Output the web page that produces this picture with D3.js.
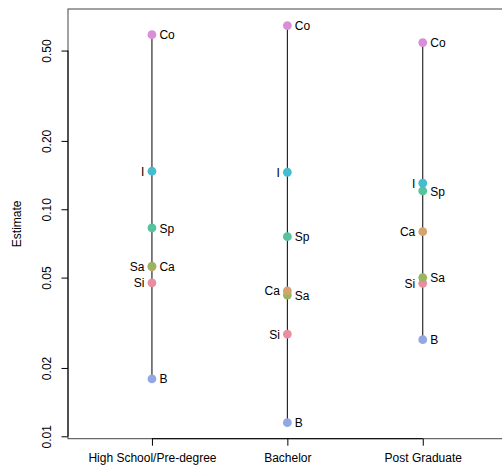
<!DOCTYPE html>
<html>
<head>
<meta charset="utf-8">
<script src="https://d3js.org/d3.v7.min.js"></script>
<style>
  html, body { margin: 0; padding: 0; background: #fff; }
  svg { display: block; font-family: "Liberation Sans", Arial, Helvetica, sans-serif; }
</style>
</head>
<body>
<svg id="chart" width="502" height="471"></svg>
<script>
// Education levels shown along the x axis
const levels = ["High School/Pre-degree", "Bachelor", "Post Graduate"];

// Group codes and their estimates for each education level
const groups = ["Co", "I", "Sp", "Ca", "Sa", "Si", "B"];
const highSchool = [0.587, 0.147, 0.0827, 0.0558, 0.0562, 0.0474, 0.0179];
const bachelor   = [0.644, 0.1455, 0.0757, 0.0437, 0.0419, 0.0282, 0.01148];
const postGrad   = [0.542, 0.1302, 0.1204, 0.0797, 0.0500, 0.0472, 0.02665];
const estimates = [highSchool, bachelor, postGrad];

const groupColors = ["#D98ED5", "#45BDD1", "#57C39C", "#D5A46E", "#9BB463", "#E78EA0", "#94A7E5"];

const yTicks = [0.01, 0.02, 0.05, 0.10, 0.20, 0.50];

const svg = d3.select("#chart");
const plot = { left: 68, right: 506.7, top: 9, bottom: 438.7 };

const x = d3.scaleLinear().domain([0.38, 3.62]).range([plot.left, plot.right]);
const y = d3.scaleLog().domain([0.00976, 0.762]).range([plot.bottom, plot.top]);

// Plot frame
svg.append("rect")
  .attr("x", plot.left).attr("y", plot.top)
  .attr("width", plot.right - plot.left).attr("height", plot.bottom - plot.top)
  .attr("fill", "none").attr("stroke", "#444").attr("stroke-width", 1);

// Y axis (log scale)
const yAxis = svg.append("g")
  .attr("transform", `translate(${plot.left},0)`)
  .call(d3.axisLeft(y).tickValues(yTicks).tickFormat(d3.format(".2f")).tickSizeOuter(0).tickSize(6.5).tickPadding(5));
yAxis.select(".domain").remove();
yAxis.append("line")
  .attr("x1", 0).attr("x2", 0).attr("y1", y(yTicks[0])).attr("y2", y(yTicks[yTicks.length - 1]))
  .attr("stroke", "#000");
yAxis.selectAll(".tick line").attr("stroke", "#000");
yAxis.selectAll(".tick text")
  .attr("font-size", 12).attr("fill", "#000")
  .attr("text-anchor", "middle")
  .attr("transform", "rotate(-90)")
  .attr("x", 0).attr("y", -17.5).attr("dy", 0);

// X axis with one tick per education level
const xAxis = svg.append("g")
  .attr("transform", `translate(0,${plot.bottom})`)
  .call(d3.axisBottom(x).tickValues([1, 2, 3]).tickFormat((d) => levels[d - 1]).tickSizeOuter(0).tickSize(7).tickPadding(16));
xAxis.select(".domain").remove();
xAxis.append("line")
  .attr("x1", x(1)).attr("x2", x(3)).attr("y1", 0).attr("y2", 0)
  .attr("stroke", "#000");
xAxis.selectAll(".tick line").attr("stroke", "#000");
xAxis.selectAll(".tick text").attr("font-size", 12).attr("fill", "#000").attr("dy", "0");

// Y axis title
svg.append("text")
  .attr("transform", `translate(17,${(plot.top + plot.bottom) / 2}) rotate(-90)`)
  .attr("text-anchor", "middle")
  .attr("dy", "0.35em")
  .attr("font-size", 12)
  .text("Estimate");

// One column per education level: range line, points, alternating labels
estimates.forEach((vals, i) => {
  const cx = x(i + 1);
  const pts = groups.map((g, j) => ({ group: g, value: vals[j], color: groupColors[j] }));
  const byRank = pts.slice().sort((a, b) => b.value - a.value);
  byRank.forEach((p, r) => { p.side = r % 2 === 0 ? "right" : "left"; });

  svg.append("line")
    .attr("x1", cx).attr("x2", cx)
    .attr("y1", y(d3.max(vals))).attr("y2", y(d3.min(vals)))
    .attr("stroke", "#000").attr("stroke-width", 1);

  // smaller values first so larger ones sit on top
  const drawOrder = pts.slice().sort((a, b) => a.value - b.value);
  svg.append("g").selectAll("circle")
    .data(drawOrder)
    .join("circle")
    .attr("cx", cx)
    .attr("cy", (d) => y(d.value))
    .attr("r", 4.4)
    .attr("fill", (d) => d.color);

  svg.append("g").selectAll("text")
    .data(pts)
    .join("text")
    .attr("x", (d) => d.side === "right" ? cx + 7.5 : cx - 7.5)
    .attr("y", (d) => y(d.value))
    .attr("dy", "0.38em")
    .attr("text-anchor", (d) => d.side === "right" ? "start" : "end")
    .attr("font-size", 12)
    .attr("fill", "#000")
    .text((d) => d.group);
});
</script>
</body>
</html>
